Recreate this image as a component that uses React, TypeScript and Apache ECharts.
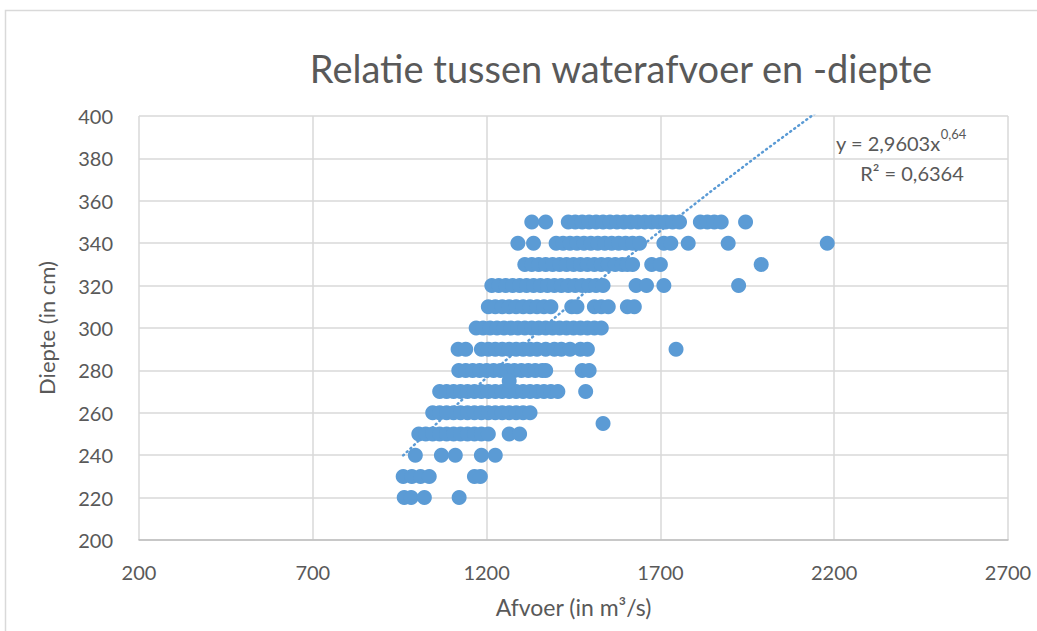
import React, { useEffect, useRef } from "react";
import * as echarts from "echarts";

// Afvoer (m³/s) values per depth level (cm)
const afvoer350 = [1330, 1370, 1435, 1455, 1475, 1495, 1515, 1535, 1555, 1575, 1595, 1615, 1635, 1655, 1675, 1695, 1715, 1735, 1755, 1815, 1835, 1855, 1875, 1945];
const afvoer340 = [1290, 1335, 1400, 1420, 1440, 1460, 1480, 1500, 1520, 1540, 1560, 1580, 1600, 1620, 1640, 1710, 1730, 1780, 1895, 2180];
const afvoer330 = [1310, 1330, 1350, 1370, 1390, 1410, 1430, 1450, 1470, 1490, 1510, 1530, 1550, 1570, 1590, 1605, 1620, 1675, 1700, 1990];
const afvoer320 = [1215, 1235, 1255, 1275, 1295, 1315, 1335, 1355, 1375, 1395, 1415, 1435, 1455, 1475, 1495, 1515, 1535, 1630, 1660, 1710, 1925];
const afvoer310 = [1205, 1225, 1245, 1265, 1285, 1305, 1325, 1345, 1365, 1385, 1445, 1460, 1510, 1530, 1550, 1605, 1625];
const afvoer300 = [1170, 1190, 1210, 1230, 1250, 1270, 1290, 1310, 1330, 1350, 1370, 1390, 1410, 1430, 1450, 1470, 1490, 1510, 1530];
const afvoer290 = [1118, 1140, 1185, 1205, 1225, 1245, 1265, 1285, 1305, 1325, 1345, 1370, 1395, 1415, 1440, 1470, 1490, 1745];
const afvoer280 = [1120, 1140, 1160, 1180, 1200, 1220, 1240, 1260, 1280, 1300, 1320, 1340, 1360, 1370, 1475, 1495];
const afvoer270 = [1065, 1085, 1105, 1125, 1145, 1165, 1185, 1205, 1225, 1245, 1265, 1285, 1305, 1325, 1345, 1365, 1385, 1405, 1485];
const afvoer260 = [1045, 1065, 1085, 1105, 1125, 1145, 1165, 1185, 1205, 1225, 1245, 1265, 1285, 1305, 1325];
const afvoer250 = [1005, 1025, 1045, 1065, 1085, 1105, 1125, 1145, 1165, 1185, 1205, 1265, 1295];
const afvoer240 = [995, 1070, 1110, 1185, 1225];
const afvoer230 = [960, 985, 1010, 1035, 1165, 1182];
const afvoer220 = [963, 983, 1021, 1121];
const extraPoints: [number, number][] = [
  [1535, 255],
  [1265, 275],
];

const rows: [number, number[]][] = [
  [350, afvoer350],
  [340, afvoer340],
  [330, afvoer330],
  [320, afvoer320],
  [310, afvoer310],
  [300, afvoer300],
  [290, afvoer290],
  [280, afvoer280],
  [270, afvoer270],
  [260, afvoer260],
  [250, afvoer250],
  [240, afvoer240],
  [230, afvoer230],
  [220, afvoer220],
];

// Power trendline y = a * x^b (shown on chart)
const trendA = 2.9603;
const trendB = 0.64;
const trendX = [960, 1100, 1250, 1400, 1550, 1700, 1850, 2000, 2180];

const xTicks = { min: 200, max: 2700, interval: 500 };
const yTicks = { min: 200, max: 400, interval: 20 };

const COLOR = "#5b9bd5";
const TEXT = "#595959";
const GRID = "#d9d9d9";
const FONT = "Lato";

export default function App() {
  const ref = useRef<HTMLDivElement>(null);
  useEffect(() => {
    if (!ref.current) return;
    const chart = echarts.init(ref.current, null, { renderer: "svg" });
    const scatterData: [number, number][] = [];
    rows.forEach(([d, xs]) => xs.forEach((x) => scatterData.push([x, d])));
    extraPoints.forEach((p) => scatterData.push(p));
    const trendData = trendX.map((x) => [x, trendA * Math.pow(x, trendB)]);

    chart.setOption({
      animation: false,
      backgroundColor: "#ffffff",
      textStyle: { fontFamily: FONT },
      grid: { left: 139, right: 29, top: 116, bottom: 91 },
      xAxis: {
        type: "value",
        min: xTicks.min,
        max: xTicks.max,
        interval: xTicks.interval,
        name: "Afvoer (in m³/s)",
        nameLocation: "middle",
        nameGap: 55,
        nameTextStyle: { color: TEXT, fontSize: 23, fontFamily: FONT },
        axisLine: { show: true, lineStyle: { color: "#bfbfbf", width: 1.5 } },
        axisTick: { show: false },
        axisLabel: {
          color: TEXT,
          fontSize: 20,
          margin: 22,
          fontFamily: FONT,
          formatter: (v: number) => String(v),
        },
        splitLine: { show: true, lineStyle: { color: GRID, width: 1.5 } },
      },
      yAxis: {
        type: "value",
        min: yTicks.min,
        max: yTicks.max,
        interval: yTicks.interval,
        name: "Diepte (in cm)",
        nameLocation: "middle",
        nameGap: 82,
        nameTextStyle: { color: TEXT, fontSize: 22, fontFamily: FONT },
        axisLine: { show: false },
        axisTick: { show: false },
        axisLabel: {
          color: TEXT,
          fontSize: 20,
          margin: 26,
          fontFamily: FONT,
          formatter: (v: number) => String(v),
        },
        splitLine: { show: true, lineStyle: { color: GRID, width: 1.5 } },
      },
      series: [
        {
          type: "line",
          data: trendData,
          showSymbol: false,
          symbol: "none",
          smooth: false,
          clip: true,
          z: 1,
          lineStyle: { color: COLOR, width: 2.5, type: [1, 4], cap: "round" },
        },
        {
          type: "scatter",
          data: scatterData,
          symbol: "circle",
          symbolSize: 15,
          z: 3,
          itemStyle: { color: COLOR, opacity: 1 },
        },
      ],
      graphic: [
        {
          type: "rect",
          shape: { x: 5.5, y: 10.5, width: 1100, height: 700 },
          style: { fill: "none", stroke: GRID, lineWidth: 1.5 },
          silent: true,
        },
        {
          type: "text",
          x: 621,
          y: 68,
          style: {
            text: "Relatie tussen waterafvoer en -diepte",
            fill: TEXT,
            fontSize: 38,
            fontFamily: FONT,
            align: "center",
            verticalAlign: "middle",
          },
        },
        {
          type: "text",
          x: 836,
          y: 140,
          style: {
            text: "{m|y = 2,9603x}{s|0,64}",
            fill: TEXT,
            fontFamily: FONT,
            align: "left",
            verticalAlign: "middle",
            rich: {
              m: { fontSize: 20, fill: TEXT, fontFamily: FONT, verticalAlign: "bottom", lineHeight: 26 },
              s: { fontSize: 13, fill: TEXT, fontFamily: FONT, verticalAlign: "top", lineHeight: 14 },
            },
          },
        },
        {
          type: "text",
          x: 912,
          y: 173,
          style: {
            text: "R² = 0,6364",
            fill: TEXT,
            fontSize: 20,
            fontFamily: FONT,
            align: "center",
            verticalAlign: "middle",
          },
        },
      ],
    });
    return () => chart.dispose();
  }, []);
  return (
    <div
      ref={ref}
      style={{ position: "absolute", left: 0, top: 0, width: 1037, height: 631 }}
    />
  );
}
